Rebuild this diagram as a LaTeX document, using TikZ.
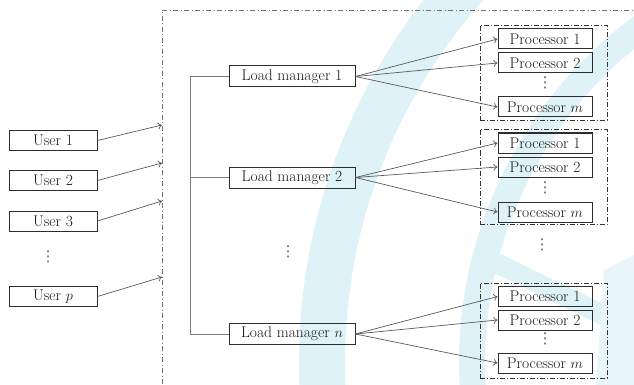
\documentclass[tikz,border=0pt]{standalone}
\usepackage{fontspec}
\newfontfamily\dotsfont{DejaVu Sans}
\usetikzlibrary{arrows.meta}

\definecolor{wmcyan}{RGB}{222,242,247}
\definecolor{inkgray}{RGB}{45,45,45}
\definecolor{wiregray}{RGB}{90,90,90}
\definecolor{busgray}{RGB}{125,125,125}
\definecolor{framegray}{RGB}{115,115,115}

\begin{document}
\begin{tikzpicture}[x=1pt,y=-1pt,
  every node/.style={font=\fontsize{15.5}{18}\selectfont, text=black!90, inner sep=0pt},
  userbox/.style={draw=inkgray, line width=1pt, minimum width=88pt, minimum height=20pt},
  lmbox/.style={draw=inkgray, line width=1pt, minimum width=126pt, minimum height=21pt},
  procbox/.style={draw=inkgray, line width=1pt, minimum width=94pt, minimum height=20pt},
  groupframe/.style={draw=black!80, line width=0.8pt, dash pattern=on 5pt off 2pt on 1pt off 2pt,
    minimum width=127pt, minimum height=95pt},
  outerframe/.style={draw=framegray, line width=0.8pt, dash pattern=on 5pt off 2.5pt on 1pt off 2.5pt},
  feed/.style={-{To[length=4pt,width=7pt]}, draw=wiregray, line width=0.7pt},
  bus/.style={draw=busgray, line width=0.9pt},
  vdotmark/.style={font=\dotsfont\fontsize{15}{15}\selectfont, text=black!65}
]
\useasboundingbox (0,0) rectangle (634,385);

% faint background emblem
\begin{scope}
  \clip (0,0) rectangle (634,385);
  \draw[wmcyan, line width=46pt] (890,363) circle (568pt);
  \draw[wmcyan, line width=26pt] (890,363) circle (418pt);
  \draw[wmcyan, line width=20pt] (486,258) -- (650,338);
  \fill[wmcyan!70] (604,270) -- (634,255) -- (634,385) -- (596,385) -- cycle;
\end{scope}

% outer system frame
\draw[outerframe] (640,10) -- (162,10) -- (162,392);
\coordinate (in1) at (162,125);
\coordinate (in2) at (162,163);
\coordinate (in3) at (162,201);
\coordinate (inp) at (162,277);

% users
\node[userbox] (u1) at (53,140.5) {User 1};
\node[userbox] (u2) at (53,180.5) {User 2};
\node[userbox] (u3) at (53,221) {User 3};
\node[vdotmark] (ud) at (48,257) {⋮};
\node[userbox] (up) at (53,296.5) {User $p$};

\draw[feed] (u1.east) -- (in1);
\draw[feed] (u2.east) -- (in2);
\draw[feed] (u3.east) -- (in3);
\draw[feed] (up.east) -- (inp);

% load managers
\node[lmbox] (lm1) at (292,76.5) {Load manager 1};
\node[lmbox] (lm2) at (292,177.5) {Load manager 2};
\node[vdotmark] (lmd) at (288,252) {⋮};
\node[lmbox] (lmn) at (292,334) {Load manager $n$};

\draw[bus] (lm1.west) -- ++(-38,0) coordinate (bt) |- (lmn.west);
\draw[bus] (lm2.west) -- (lm2.west -| bt);

% processor groups
\node[groupframe] (grp1) at (543.5,72.5) {};
\node[procbox] (g1p1) at (545,39) {Processor 1};
\node[procbox] (g1p2) at (545,63) {Processor 2};
\node[vdotmark] (g1d) at (545,83) {⋮};
\node[procbox] (g1pm) at (545,107) {Processor $m$};

\node[groupframe] (grp2) at (543.5,177) {};
\node[procbox] (g2p1) at (545,143) {Processor 1};
\node[procbox] (g2p2) at (545,167) {Processor 2};
\node[vdotmark] (g2d) at (545,188) {⋮};
\node[procbox] (g2pm) at (545,212) {Processor $m$};

\node[vdotmark] (gd) at (542,245) {⋮};

\node[groupframe] (grp3) at (543.5,330.5) {};
\node[procbox] (g3p1) at (545,296.5) {Processor 1};
\node[procbox] (g3p2) at (545,320) {Processor 2};
\node[vdotmark] (g3d) at (545,339) {⋮};
\node[procbox] (g3pm) at (545,363) {Processor $m$};

% dispatch from managers to processors
\foreach \src/\grp in {lm1/g1, lm2/g2, lmn/g3} {
  \draw[feed] (\src.east) -- (\grp p1.west);
  \draw[feed] (\src.east) -- (\grp p2.west);
  \draw[feed] (\src.east) -- (\grp pm.west);
}
\end{tikzpicture}
\end{document}
